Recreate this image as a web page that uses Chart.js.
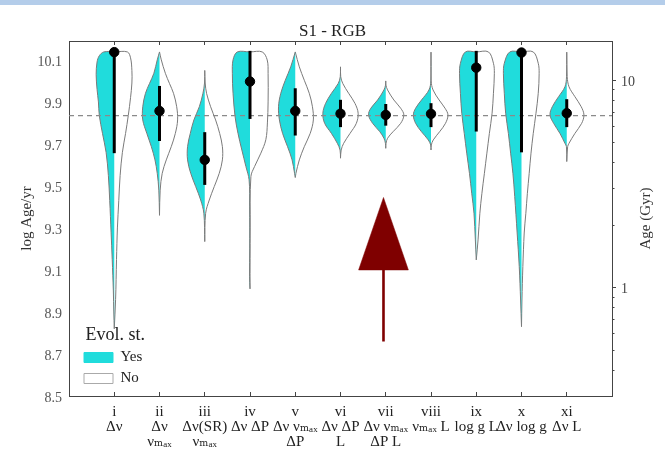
<!DOCTYPE html>
<html>
<head>
<meta charset="utf-8">
<title>S1 - RGB</title>
<script src="https://cdn.jsdelivr.net/npm/chart.js@4.4.1/dist/chart.umd.min.js"></script>
<style>
html, body { margin: 0; padding: 0; background: #fff; }
#wrap { position: relative; width: 665px; height: 466px; }
#bande { position: absolute; left: 0; top: 0; width: 665px; height: 5px; background: #b4cdea; }
</style>
</head>
<body>
<div id="wrap">
	<canvas id="violons" width="665" height="466"></canvas>
	<div id="bande"></div>
</div>
<script>
// --- donnees ---------------------------------------------------------

const categories = ['i', 'ii', 'iii', 'iv', 'v', 'vi', 'vii', 'viii', 'ix', 'x', 'xi'];
const observables = [
	['Δν'],
	['Δν', 'νₘₐₓ'],
	['Δν(SR)', 'νₘₐₓ'],
	['Δν ΔP'],
	['Δν νₘₐₓ', 'ΔP'],
	['Δν ΔP', 'L'],
	['Δν νₘₐₓ', 'ΔP L'],
	['νₘₐₓ L'],
	['log g L'],
	['Δν log g'],
	['Δν L']
];

// log Age/yr : mediane et barre d'erreur
const medianAge = [10.137, 9.857, 9.624, 9.997, 9.857, 9.844, 9.838, 9.843, 10.063, 10.135, 9.846];
const lowAge    = [9.656, 9.714, 9.505, 9.819, 9.740, 9.780, 9.787, 9.780, 9.759, 9.660, 9.780];
const highAge   = [10.138, 9.976, 9.756, 10.143, 9.965, 9.910, 9.890, 9.894, 10.143, 10.138, 9.913];

// contour des demi-violons : [log Age/yr, demi-largeur]
const yesShape = [
	[[10.138,0],[10.138,0.23],[10.12,0.33],[10.09,0.38],[10.03,0.40],[9.96,0.38],[9.90,0.35],[9.835,0.33],[9.75,0.26],[9.66,0.18],[9.55,0.13],[9.43,0.10],[9.28,0.07],[9.15,0.045],[9.0,0.02],[8.9,0.01],[8.82,0]],
	[[10.138,0],[10.1,0.05],[10.036,0.125],[9.988,0.22],[9.941,0.31],[9.877,0.37],[9.814,0.37],[9.75,0.28],[9.687,0.18],[9.624,0.10],[9.56,0.05],[9.48,0.015],[9.36,0]],
	[[10.05,0],[9.99,0.005],[9.941,0.04],[9.877,0.12],[9.814,0.24],[9.75,0.32],[9.687,0.38],[9.624,0.38],[9.56,0.31],[9.497,0.20],[9.433,0.09],[9.37,0.02],[9.235,0]],
	[[10.138,0],[10.138,0.28],[10.1,0.375],[10.036,0.39],[9.941,0.375],[9.83,0.33],[9.75,0.265],[9.671,0.18],[9.592,0.09],[9.529,0.02],[9.4,0.008],[9.2,0.006],[9.07,0.01],[9.01,0]],
	[[10.138,0],[10.067,0.10],[10.003,0.22],[9.941,0.32],[9.877,0.37],[9.814,0.35],[9.75,0.28],[9.687,0.17],[9.624,0.07],[9.56,0.015],[9.54,0]],
	[[10.067,0],[10.02,0.005],[9.988,0.05],[9.941,0.20],[9.893,0.33],[9.846,0.39],[9.798,0.35],[9.75,0.20],[9.703,0.07],[9.671,0.01],[9.632,0]],
	[[10.0,0],[9.98,0.005],[9.957,0.04],[9.909,0.18],[9.87,0.33],[9.838,0.38],[9.798,0.29],[9.758,0.13],[9.727,0.04],[9.703,0.007],[9.679,0]],
	[[10.137,0],[10.0,0.004],[9.957,0.045],[9.909,0.21],[9.87,0.34],[9.838,0.39],[9.798,0.34],[9.758,0.21],[9.719,0.06],[9.695,0.007],[9.671,0]],
	[[10.138,0],[10.138,0.24],[10.084,0.35],[10.036,0.37],[9.941,0.35],[9.846,0.32],[9.75,0.265],[9.656,0.21],[9.56,0.15],[9.465,0.10],[9.37,0.05],[9.243,0.02],[9.148,0]],
	[[10.138,0],[10.138,0.26],[10.084,0.38],[10.036,0.40],[9.941,0.38],[9.846,0.35],[9.75,0.29],[9.656,0.24],[9.56,0.19],[9.45,0.15],[9.276,0.096],[9.116,0.05],[8.957,0.02],[8.83,0]],
	[[10.137,0],[10.02,0.005],[9.972,0.04],[9.925,0.18],[9.877,0.32],[9.838,0.37],[9.798,0.29],[9.75,0.15],[9.703,0.04],[9.687,0.007],[9.616,0]]
];
const noShape = [
	[[10.138,0],[10.138,0.29],[10.11,0.36],[10.05,0.39],[9.99,0.39],[9.92,0.36],[9.835,0.31],[9.75,0.25],[9.66,0.18],[9.55,0.13],[9.43,0.10],[9.3,0.07],[9.15,0.05],[8.96,0.03],[8.82,0]],
	[[10.138,0],[10.1,0.04],[10.036,0.13],[9.988,0.22],[9.941,0.31],[9.877,0.38],[9.814,0.40],[9.75,0.35],[9.687,0.26],[9.624,0.15],[9.56,0.06],[9.48,0.015],[9.36,0]],
	[[10.05,0],[9.99,0.01],[9.941,0.04],[9.877,0.13],[9.814,0.24],[9.75,0.33],[9.687,0.39],[9.624,0.39],[9.56,0.32],[9.497,0.21],[9.433,0.10],[9.37,0.02],[9.235,0]],
	[[10.138,0],[10.138,0.27],[10.1,0.38],[10.036,0.40],[9.9,0.40],[9.8,0.385],[9.72,0.35],[9.656,0.24],[9.592,0.10],[9.545,0.02],[9.3,0.004],[9.01,0]],
	[[10.138,0],[10.067,0.09],[10.003,0.20],[9.941,0.31],[9.877,0.38],[9.814,0.40],[9.75,0.33],[9.687,0.20],[9.624,0.09],[9.56,0.015],[9.54,0]],
	[[10.067,0],[10.02,0.005],[9.988,0.05],[9.941,0.18],[9.893,0.32],[9.846,0.39],[9.798,0.35],[9.75,0.21],[9.703,0.07],[9.671,0.015],[9.632,0]],
	[[10.0,0],[9.98,0.005],[9.957,0.04],[9.909,0.18],[9.87,0.33],[9.838,0.40],[9.798,0.33],[9.758,0.16],[9.727,0.04],[9.703,0.007],[9.679,0]],
	[[10.137,0],[10.0,0.004],[9.957,0.045],[9.909,0.18],[9.87,0.31],[9.838,0.375],[9.798,0.32],[9.758,0.19],[9.719,0.05],[9.695,0.007],[9.671,0]],
	[[10.138,0],[10.138,0.27],[10.084,0.38],[10.036,0.40],[9.941,0.38],[9.846,0.35],[9.75,0.29],[9.656,0.235],[9.56,0.18],[9.465,0.125],[9.37,0.08],[9.243,0.04],[9.148,0]],
	[[10.138,0],[10.138,0.26],[10.084,0.37],[10.036,0.39],[9.941,0.37],[9.846,0.32],[9.75,0.26],[9.656,0.21],[9.56,0.17],[9.465,0.13],[9.37,0.096],[9.276,0.06],[9.116,0.03],[8.957,0.01],[8.83,0]],
	[[10.137,0],[10.02,0.01],[9.972,0.05],[9.925,0.18],[9.877,0.32],[9.838,0.38],[9.798,0.33],[9.75,0.18],[9.703,0.05],[9.687,0.02],[9.616,0]]
];

const leftTicks = [8.5, 8.7, 8.9, 9.1, 9.3, 9.5, 9.7, 9.9, 10.1];
const gyrMajor = [1, 10];
const gyrMinor = [0.4, 0.5, 0.6, 0.7, 0.8, 0.9, 2, 3, 4, 5, 6, 7, 8, 9];

const refAge = 9.835;        // ligne pointillee
const arrowX = 6.95;
const arrowTip = 9.445;
const arrowBase = 9.10;
const arrowTail = 8.76;
const arrowHalf = 0.55;

// --- mise en forme ---------------------------------------------------

const yMin = 8.5, yMax = 10.19;
const serif = "'Liberation Serif', 'DejaVu Serif', serif";
const cyan = '#20dcdc';
const contour = '#7a7a7a';
const cadre = '#444444';

var datasets = [];

function demiViolon(pos, profil, sens, couleur)
{
	return {
		data: profil.map(function(p) { return {x: pos + sens * p[1], y: p[0]}; }),
		showLine: true,
		fill: 'shape',
		backgroundColor: couleur,
		borderColor: contour,
		borderWidth: 1,
		pointRadius: 0,
		tension: 0.35,
		order: 5
	};
}

categories.forEach(function(c, i) {
	datasets.push(demiViolon(i + 1, yesShape[i], -1, cyan));
	datasets.push(demiViolon(i + 1, noShape[i], 1, '#ffffff'));
});

// age de reference
datasets.push({
	data: [{x: 0, y: refAge}, {x: 12, y: refAge}],
	showLine: true,
	borderColor: '#8a8a8a',
	borderWidth: 1.2,
	borderDash: [5, 4],
	pointRadius: 0,
	order: 4
});

// fleche
datasets.push({
	data: [{x: arrowX, y: arrowTip}, {x: arrowX + arrowHalf, y: arrowBase}, {x: arrowX - arrowHalf, y: arrowBase}, {x: arrowX, y: arrowTip}],
	showLine: true,
	fill: 'shape',
	backgroundColor: '#7f0000',
	borderColor: '#7f0000',
	borderWidth: 0.5,
	pointRadius: 0,
	order: 3
});
datasets.push({
	data: [{x: arrowX, y: arrowBase}, {x: arrowX, y: arrowTail}],
	showLine: true,
	borderColor: '#7f0000',
	borderWidth: 2.6,
	pointRadius: 0,
	order: 3
});

// barres d'erreur
categories.forEach(function(c, i) {
	datasets.push({
		data: [{x: i + 1, y: lowAge[i]}, {x: i + 1, y: highAge[i]}],
		showLine: true,
		borderColor: '#000000',
		borderWidth: 3,
		borderCapStyle: 'butt',
		pointRadius: 0,
		order: 2
	});
});

// medianes
datasets.push({
	data: medianAge.map(function(v, i) { return {x: i + 1, y: v}; }),
	showLine: false,
	backgroundColor: '#000000',
	borderColor: '#000000',
	pointRadius: 4.7,
	order: 1
});

// titre de l'axe de droite, lu de bas en haut
const titreDroite = {
	id: 'titreDroite',
	afterDraw: function(chart) {
		var ctx = chart.ctx;
		var a = chart.chartArea;
		ctx.save();
		ctx.translate(646, (a.top + a.bottom) / 2);
		ctx.rotate(-Math.PI / 2);
		ctx.font = '15px ' + serif;
		ctx.fillStyle = '#333333';
		ctx.textAlign = 'center';
		ctx.textBaseline = 'middle';
		ctx.fillText('Age (Gyr)', 0, 0);
		ctx.restore();
	}
};

// la legende 'chartArea' est posee en bas a gauche, dans le cadre
const legendeDansCadre = {
	id: 'legendeDansCadre',
	afterLayout: function(chart) {
		var l = chart.legend;
		var a = chart.chartArea;
		l.left = a.left + 9;
		l.right = l.left + l.width;
		l.top = a.top;
		l.bottom = a.bottom - 4;
	}
};

function positionsX(scale)
{
	scale.ticks = categories.map(function(c, i) { return {value: i + 1}; });
}

var chart = new Chart(document.getElementById('violons'), {
	type: 'scatter',
	data: { datasets: datasets },
	plugins: [titreDroite, legendeDansCadre],
	options: {
		responsive: false,
		animation: false,
		events: [],
		layout: { padding: 0 },
		scales: {
			x: {
				type: 'linear',
				position: 'bottom',
				min: 0,
				max: 12,
				afterBuildTicks: positionsX,
				afterFit: function(s) { s.height = 70; },
				border: { color: cadre, width: 1 },
				grid: { drawOnChartArea: false, tickLength: -4, tickColor: cadre },
				ticks: {
					autoSkip: false,
					maxRotation: 0,
					minRotation: 0,
					padding: 12,
					color: '#222222',
					font: { family: serif, size: 15, lineHeight: 1.02 },
					callback: function(value, index) {
						return [categories[index]].concat(observables[index]);
					}
				}
			},
			xTop: {
				type: 'linear',
				position: 'top',
				min: 0,
				max: 12,
				afterBuildTicks: positionsX,
				afterFit: function(s) { s.height = 0; },
				border: { color: cadre, width: 1 },
				grid: { drawOnChartArea: false, tickLength: -4, tickColor: cadre },
				ticks: { display: false }
			},
			y: {
				type: 'linear',
				position: 'left',
				min: yMin,
				max: yMax,
				afterBuildTicks: function(s) { s.ticks = leftTicks.map(function(v) { return {value: v}; }); },
				afterFit: function(s) { s.width = 69; },
				border: { color: cadre, width: 1 },
				grid: { drawOnChartArea: false, drawTicks: false },
				ticks: {
					padding: 7,
					labelOffset: 2,
					color: '#555555',
					font: { family: serif, size: 14 },
					callback: function(v) { return v.toFixed(1); }
				},
				title: {
					display: true,
					text: 'log Age/yr',
					color: '#333333',
					padding: { top: 18, bottom: 0 },
					font: { family: serif, size: 15 }
				}
			},
			gyrMin: {
				type: 'logarithmic',
				position: 'right',
				weight: 0,
				min: Math.pow(10, yMin - 9),
				max: Math.pow(10, yMax - 9),
				afterBuildTicks: function(s) { s.ticks = gyrMinor.map(function(v) { return {value: v}; }); },
				afterFit: function(s) { s.width = 0; },
				border: { display: false },
				grid: { drawOnChartArea: false, tickLength: 2.5, tickColor: cadre },
				ticks: { display: false }
			},
			gyr: {
				type: 'logarithmic',
				position: 'right',
				weight: 1,
				min: Math.pow(10, yMin - 9),
				max: Math.pow(10, yMax - 9),
				afterBuildTicks: function(s) { s.ticks = gyrMajor.map(function(v) { return {value: v}; }); },
				afterFit: function(s) { s.width = 53; },
				border: { color: cadre, width: 1 },
				grid: { drawOnChartArea: false, tickLength: 4, tickColor: cadre },
				ticks: {
					padding: 5,
					labelOffset: 2,
					color: '#444444',
					font: { family: serif, size: 14 },
					callback: function(v) { return String(v); }
				}
			}
		},
		plugins: {
			title: {
				display: true,
				text: 'S1 - RGB',
				color: '#222222',
				font: { family: serif, size: 17, weight: 'normal', lineHeight: 1 },
				padding: { top: 23, bottom: 1 }
			},
			tooltip: { enabled: false },
			legend: {
				position: 'chartArea',
				align: 'end',
				onClick: null,
				title: {
					display: true,
					text: 'Evol. st.',
					position: 'center',
					color: '#222222',
					font: { family: serif, size: 18, lineHeight: 1 },
					padding: { top: 0, bottom: 0 }
				},
				labels: {
					boxWidth: 29,
					boxHeight: 10,
					padding: 6,
					color: '#333333',
					font: { family: serif, size: 15 },
					generateLabels: function() {
						return [
							{ text: 'Yes', fillStyle: cyan, strokeStyle: cyan, lineWidth: 1, hidden: false },
							{ text: 'No', fillStyle: '#ffffff', strokeStyle: '#aaaaaa', lineWidth: 1, hidden: false }
						];
					}
				}
			}
		}
	}
});
</script>
</body>
</html>
